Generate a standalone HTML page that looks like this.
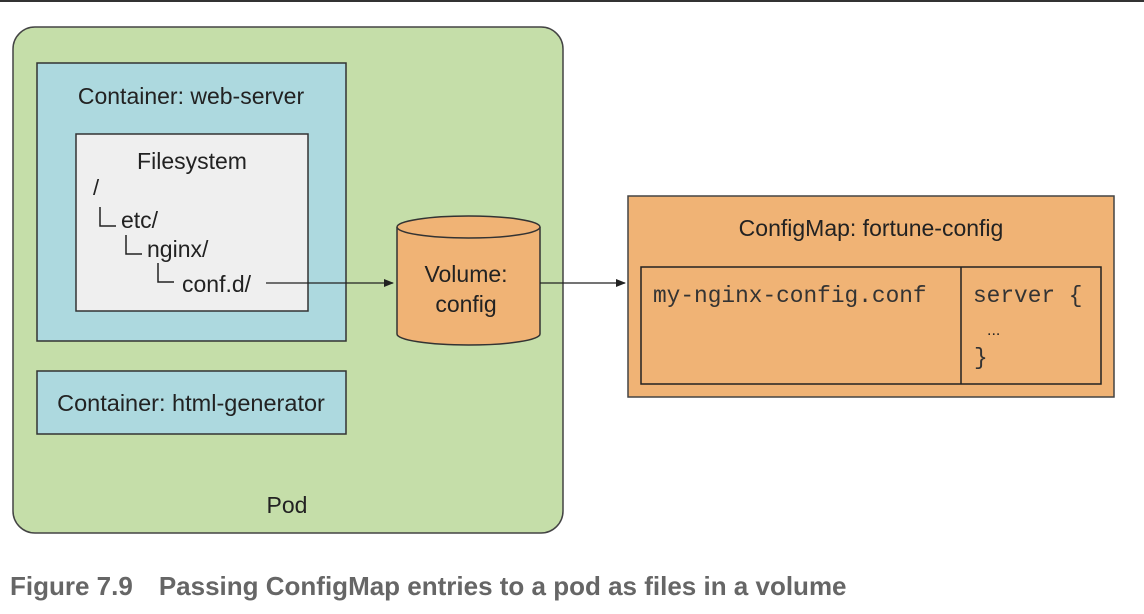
<!DOCTYPE html>
<html><head><meta charset="utf-8"><style>
html,body{margin:0;padding:0;background:#fff;width:1144px;height:614px;overflow:hidden}
svg{display:block}
text{font-family:"Liberation Sans",Arial,sans-serif;fill:#222}
.m{font-family:"Liberation Mono","Courier New",monospace;fill:#333}
</style></head><body>
<svg width="1144" height="614" viewBox="0 0 1144 614">
<defs><marker id="a" markerWidth="10" markerHeight="8" refX="9" refY="4" orient="auto" markerUnits="userSpaceOnUse"><path d="M0,0 L10,4 L0,8 z" fill="#222"/></marker></defs>
<line x1="0" y1="1" x2="1144" y2="1" stroke="#333" stroke-width="2"/>
<rect x="13" y="27" width="550" height="506" rx="22" fill="#c5dea9" stroke="#444" stroke-width="1.5"/>
<rect x="37" y="63" width="309" height="278" fill="#add9df" stroke="#333" stroke-width="1.5"/>
<text x="191" y="104" font-size="23" text-anchor="middle">Container: web-server</text>
<rect x="76" y="134" width="232" height="177" fill="#efefef" stroke="#333" stroke-width="1.5"/>
<text x="192" y="169" font-size="23" text-anchor="middle">Filesystem</text>
<text x="93" y="195" font-size="22">/</text>
<path d="M100,207 V226 H116 M126,235 V254 H142 M158,263 V282 H174" fill="none" stroke="#222" stroke-width="1.5"/>
<text x="121" y="228" font-size="23">etc/</text>
<text x="147" y="257" font-size="23">nginx/</text>
<text x="182" y="292" font-size="23">conf.d/</text>
<line x1="266" y1="283" x2="393" y2="283" stroke="#222" stroke-width="1.3" marker-end="url(#a)"/>
<rect x="37" y="371" width="309" height="63" fill="#add9df" stroke="#333" stroke-width="1.5"/>
<text x="191" y="411" font-size="23.5" text-anchor="middle">Container: html-generator</text>
<text x="287" y="513" font-size="23" text-anchor="middle">Pod</text>
<path d="M397,227 L397,334 A71.5,11 0 0 0 540,334 L540,227" fill="#f0b375" stroke="#333" stroke-width="1.5"/>
<ellipse cx="468.5" cy="227" rx="71.5" ry="11" fill="#f0b375" stroke="#333" stroke-width="1.5"/>
<text x="466" y="282" font-size="23" text-anchor="middle">Volume:</text>
<text x="466" y="312" font-size="23" text-anchor="middle">config</text>
<line x1="540" y1="283" x2="625" y2="283" stroke="#222" stroke-width="1.3" marker-end="url(#a)"/>
<rect x="628" y="196" width="486" height="201" fill="#f0b375" stroke="#444" stroke-width="1.5"/>
<text x="871" y="236" font-size="23" text-anchor="middle">ConfigMap: fortune-config</text>
<rect x="641" y="267" width="460" height="117" fill="#f0b375" stroke="#222" stroke-width="1.5"/>
<line x1="961" y1="267" x2="961" y2="384" stroke="#222" stroke-width="1.5"/>
<text class="m" x="653" y="302" font-size="22.8">my-nginx-config.conf</text>
<text class="m" x="973" y="302" font-size="22.8">server {</text>
<text x="987" y="335" font-size="16" fill="#333">...</text>
<text class="m" x="974" y="364" font-size="22.8">}</text>
<text x="10" y="595" font-size="26" font-weight="bold" style="fill:#666">Figure 7.9<tspan dx="26">Passing ConfigMap entries to a pod as files in a volume</tspan></text>
</svg>
</body></html>
